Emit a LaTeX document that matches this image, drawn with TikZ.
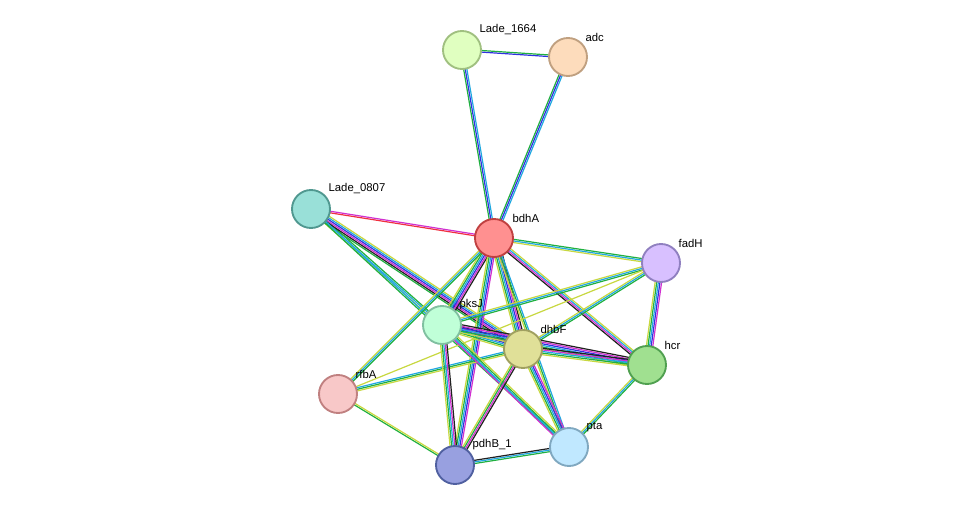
\documentclass[tikz,border=0pt]{standalone}
\usepackage{fontspec}
\setmainfont{Liberation Sans}
\usetikzlibrary{calc}
\definecolor{ey}{HTML}{C8D840}
\definecolor{eg}{HTML}{20B040}
\definecolor{eb}{HTML}{3030E0}
\definecolor{ec}{HTML}{20A8E0}
\definecolor{em}{HTML}{D030D0}
\definecolor{ek}{HTML}{202020}
\definecolor{er}{HTML}{F03040}
\newcommand{\edg}[3]{%
  \foreach \cc [count=\i] in {#3} {\xdef\nn{\i}}%
  \foreach \cc [count=\i] in {#3} {%
    \pgfmathsetmacro{\oo}{(\i-(\nn+1)/2)*1.2}%
    \draw[line width=0.9pt,\cc] ($(#1)!\oo pt!90:(#2)$) -- ($(#2)!\oo pt!-90:(#1)$);}}
\tikzset{prot/.style={circle,minimum size=28.5pt,inner sep=0pt,line width=1.4pt},
lab/.style={font=\fontsize{8.5}{10}\selectfont,anchor=south west,inner sep=1pt}}
\begin{document}
\begin{tikzpicture}[x=0.75pt,y=-0.75pt]
\useasboundingbox[fill=white] (0,0) rectangle (976,511);
\coordinate (L1) at (462,50);
\coordinate (AD) at (568,57);
\coordinate (L8) at (311,209);
\coordinate (BD) at (494,238);
\coordinate (FA) at (661,263);
\coordinate (PK) at (442,325);
\coordinate (DH) at (523,349);
\coordinate (HC) at (647,365);
\coordinate (RF) at (338,394);
\coordinate (PT) at (569,447);
\coordinate (PD) at (455,465);
\edg{L1}{AD}{eb,eg}
\edg{L1}{BD}{eg,eb,ec}
\edg{AD}{BD}{eg,eb,ec}
\edg{L8}{BD}{er,em}
\edg{L8}{PK}{ey,ec,eg}
\edg{L8}{DH}{eg,ek,em,eb,ec,ey}
\edg{L8}{PT}{eg,ec}
\edg{BD}{FA}{ey,ec,eg}
\edg{BD}{HC}{ek,em,ec,ey}
\edg{BD}{PK}{ey,eg,ec,eb,em,ek}
\edg{BD}{DH}{ey,eg,ec,eb,em,ek}
\edg{BD}{RF}{ey,ec,eg}
\edg{BD}{PD}{ey,eg,ec,eb,em}
\edg{BD}{PT}{ey,eg,ec}
\edg{FA}{PK}{ey,ec,eg}
\edg{FA}{DH}{ey,ec,eg}
\edg{FA}{HC}{ey,eg,ec,eb,em}
\edg{RF}{FA}{ey}
\edg{RF}{DH}{ey,eg,ec}
\edg{RF}{PD}{eg,ey}
\edg{PK}{DH}{ey,eg,ec,eb,em,ek}
\edg{PK}{HC}{ey,eg,ec,eb,em,ek}
\edg{PK}{PD}{ey,eg,ec,em,ek}
\edg{PK}{PT}{em,ec,eg,ey}
\edg{DH}{HC}{ey,eg,ec,em,ek}
\edg{DH}{PD}{ey,eg,em,ek}
\edg{DH}{PT}{ey,eg,ec,eb,em}
\edg{HC}{PT}{ey,ec,eg}
\edg{PD}{PT}{eg,ec,ek}
\node[prot,fill={rgb,255:red,224;green,255;blue,192},draw={rgb,255:red,160;green,192;blue,128}] (n1) at (L1) {};
\node[prot,fill={rgb,255:red,253;green,220;blue,188},draw={rgb,255:red,192;green,160;blue,128}] (n2) at (AD) {};
\node[prot,fill={rgb,255:red,153;green,224;blue,216},draw={rgb,255:red,80;green,152;blue,144}] (n3) at (L8) {};
\node[prot,fill={rgb,255:red,255;green,144;blue,144},draw={rgb,255:red,192;green,64;blue,64}] (n4) at (BD) {};
\node[prot,fill={rgb,255:red,216;green,192;blue,255},draw={rgb,255:red,144;green,128;blue,192}] (n5) at (FA) {};
\node[prot,fill={rgb,255:red,192;green,255;blue,216},draw={rgb,255:red,128;green,192;blue,160}] (n6) at (PK) {};
\node[prot,fill={rgb,255:red,224;green,224;blue,152},draw={rgb,255:red,160;green,160;blue,96}] (n7) at (DH) {};
\node[prot,fill={rgb,255:red,160;green,224;blue,144},draw={rgb,255:red,80;green,160;blue,80}] (n8) at (HC) {};
\node[prot,fill={rgb,255:red,248;green,200;blue,200},draw={rgb,255:red,192;green,128;blue,128}] (n9) at (RF) {};
\node[prot,fill={rgb,255:red,192;green,232;blue,255},draw={rgb,255:red,128;green,168;blue,192}] (n10) at (PT) {};
\node[prot,fill={rgb,255:red,152;green,160;blue,224},draw={rgb,255:red,80;green,96;blue,160}] (n11) at (PD) {};
\node[lab] (t1) at (478,36) {Lade\_1664};
\node[lab] (t2) at (584,43) {adc};
\node[lab] (t3) at (327,195) {Lade\_0807};
\node[lab] (t4) at (511,224) {bdhA};
\node[lab] (t5) at (677,249) {fadH};
\node[lab] (t6) at (458,311) {pksJ};
\node[lab] (t7) at (539,335) {dhbF};
\node[lab] (t8) at (663,351) {hcr};
\node[lab] (t9) at (354,380) {rfbA};
\node[lab] (t10) at (585,433) {pta};
\node[lab] (t11) at (471,451) {pdhB\_1};
\end{tikzpicture}
\end{document}
